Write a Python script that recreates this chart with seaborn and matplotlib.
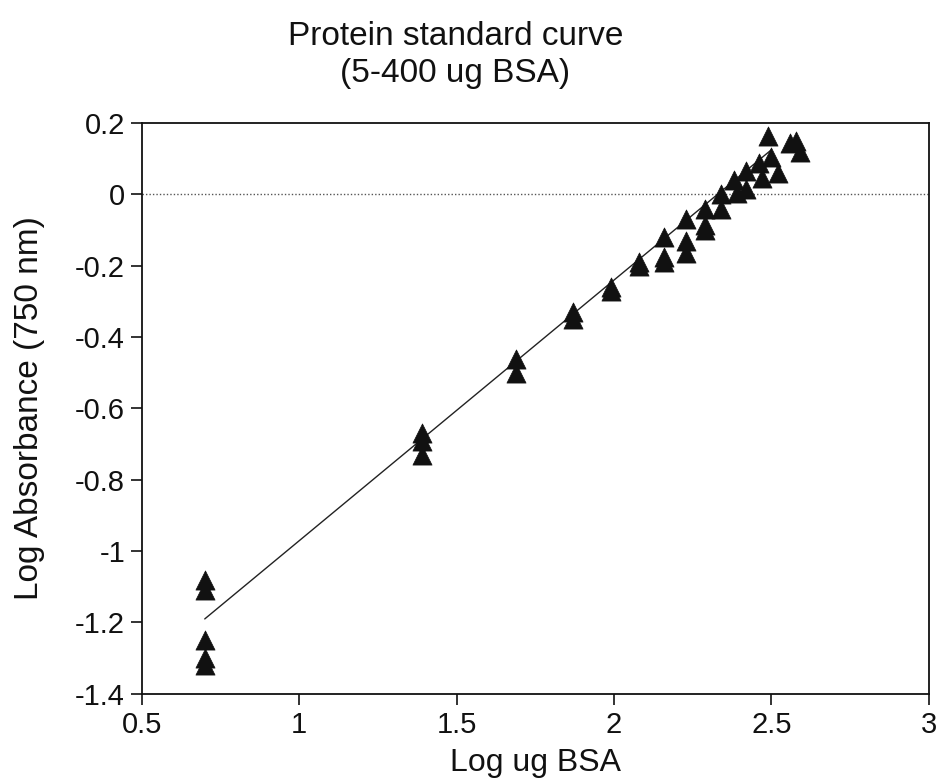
import matplotlib
matplotlib.use("Agg")
import matplotlib.pyplot as plt
import seaborn as sns
import pandas as pd

# --------------------------------------------------
# DATA
# --------------------------------------------------

log_ug = [
    0.70, 0.70, 0.70, 0.70, 0.70,
    1.39, 1.39, 1.39,
    1.69, 1.69,
    1.87, 1.87,
    1.99, 1.99,
    2.08, 2.08,
    2.16, 2.16, 2.16,
    2.23, 2.23, 2.23,
    2.29, 2.29, 2.29,
    2.34, 2.34,
    2.38, 2.39,
    2.42, 2.42,
    2.46, 2.47,
    2.49,
    2.50, 2.52,
    2.56, 2.58, 2.59,
]

log_abs = [
    -1.08, -1.11, -1.25, -1.30, -1.32,
    -0.67, -0.69, -0.73,
    -0.46, -0.50,
    -0.33, -0.35,
    -0.26, -0.27,
    -0.19, -0.20,
    -0.12, -0.175, -0.19,
    -0.07, -0.13, -0.165,
    -0.04, -0.085, -0.10,
    0.00, -0.04,
    0.04, 0.005,
    0.065, 0.015,
    0.088, 0.046,
    0.165,
    0.105, 0.06,
    0.145, 0.15, 0.12,
]

fit_x = [0.70, 2.50]
fit_y = [-1.19, 0.125]

x_ticks = [0.5, 1, 1.5, 2, 2.5, 3]
x_tick_labels = ["0.5", "1", "1.5", "2", "2.5", "3"]
y_ticks = [0.2, 0, -0.2, -0.4, -0.6, -0.8, -1, -1.2, -1.4]
y_tick_labels = ["0.2", "0", "-0.2", "-0.4", "-0.6", "-0.8", "-1", "-1.2", "-1.4"]

df = pd.DataFrame({"log_ug": log_ug, "log_abs": log_abs})
fit = pd.DataFrame({"x": fit_x, "y": fit_y})

# --------------------------------------------------
# STYLE
# --------------------------------------------------

sns.set_style("ticks")
plt.rcParams["font.family"] = ["Liberation Sans", "DejaVu Sans"]

fig = plt.figure(figsize=(9.39, 7.84), dpi=100)
ax = fig.add_axes([0.151, 0.115, 0.838, 0.728])

# --------------------------------------------------
# PLOT
# --------------------------------------------------

ax.axhline(0, color="#555555", linestyle=(0, (1, 1.5)), linewidth=1.0, zorder=1)

sns.lineplot(data=fit, x="x", y="y", ax=ax, color="#222222",
             linewidth=1.0, zorder=2)

sns.scatterplot(data=df, x="log_ug", y="log_abs", ax=ax, marker="^",
                s=190, color="#111111", edgecolor="#111111", linewidth=0.5,
                zorder=3)

ax.set_xlim(0.5, 3)
ax.set_ylim(-1.4, 0.2)
ax.set_xticks(x_ticks)
ax.set_xticklabels(x_tick_labels)
ax.set_yticks(y_ticks)
ax.set_yticklabels(y_tick_labels)

for side in ["top", "right", "left", "bottom"]:
    ax.spines[side].set_visible(True)
    ax.spines[side].set_linewidth(1.3)
    ax.spines[side].set_color("#111111")

ax.tick_params(axis="both", direction="out", length=8, width=1.2,
               labelsize=21, colors="#111111", pad=4)

ax.set_xlabel("Log ug BSA", fontsize=23, color="#111111", labelpad=7)
ax.set_ylabel("Log Absorbance (750 nm)", fontsize=24, color="#111111",
              labelpad=22)

fig.text(0.485, 0.973, "Protein standard curve\n(5-400 ug BSA)",
         ha="center", va="top", fontsize=24, color="#111111",
         linespacing=1.25)

fig.savefig("out.png", dpi=100)
plt.close(fig)
